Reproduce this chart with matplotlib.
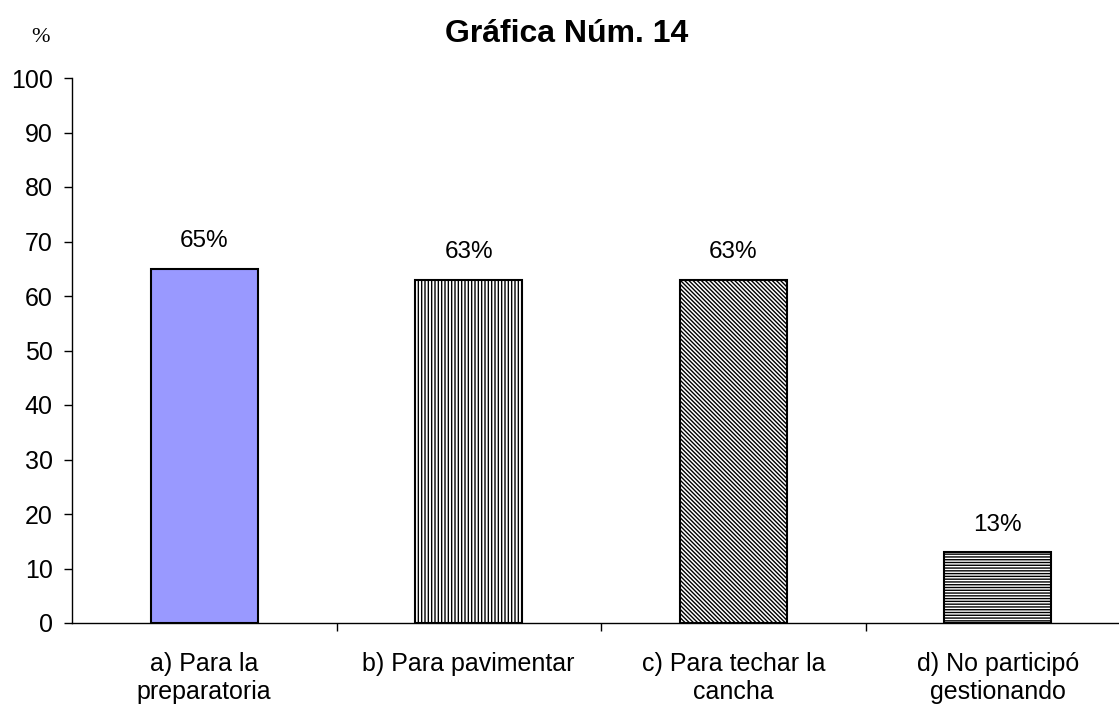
import matplotlib
matplotlib.use("Agg")
import matplotlib.pyplot as plt
import numpy as np

plt.rcParams['font.family'] = ['Liberation Sans', 'DejaVu Sans']
plt.rcParams['hatch.linewidth'] = 1.0

categories = ["a) Para la\npreparatoria", "b) Para pavimentar",
              "c) Para techar la\ncancha", "d) No participó\ngestionando"]
values = [65, 63, 63, 13]
labels = ["65%", "63%", "63%", "13%"]

fig = plt.figure(figsize=(11.19, 7.05), dpi=100)
ax = fig.add_axes([72 / 1119, 82 / 705, 1058 / 1119, 545 / 705])

x = np.arange(len(values))
faces = ["#9999FF", "white", "white", "white"]
hatches = [None, "|||||", "\\" * 8, "------"]
for xi, v, fc, h in zip(x, values, faces, hatches):
    ax.bar(xi, v, width=0.405, color=fc, edgecolor="black", linewidth=1.5,
           hatch=h, zorder=2)

for xi, v, lab in zip(x, values, labels):
    ax.text(xi, v + 3, lab, ha="center", va="bottom", fontsize=17.5)

ax.set_xlim(-0.5, 3.5)
ax.set_ylim(0, 100)
ax.set_yticks(range(0, 101, 10))
ax.set_xticks(x)
ax.set_xticklabels(categories, fontsize=18, va="top", linespacing=1.2)
ax.set_xticks([0.5, 1.5, 2.5], minor=True)
ax.tick_params(axis="x", which="major", length=0, pad=21)
ax.tick_params(axis="x", which="minor", length=6, direction="out", width=1)
ax.tick_params(axis="y", length=6, direction="out", width=1, labelsize=18,
               pad=8)
for s in ["top", "right"]:
    ax.spines[s].set_visible(False)
for s in ["left", "bottom"]:
    ax.spines[s].set_linewidth(1)

fig.text(567 / 1119, 1 - 34 / 705, "Gráfica Núm. 14", ha="center", va="center",
         fontsize=23, fontweight="bold")
fig.text(41 / 1119, 1 - 37 / 705, "%", ha="center", va="center",
         fontsize=16, family="Liberation Serif")

fig.savefig("out.png", dpi=100)
